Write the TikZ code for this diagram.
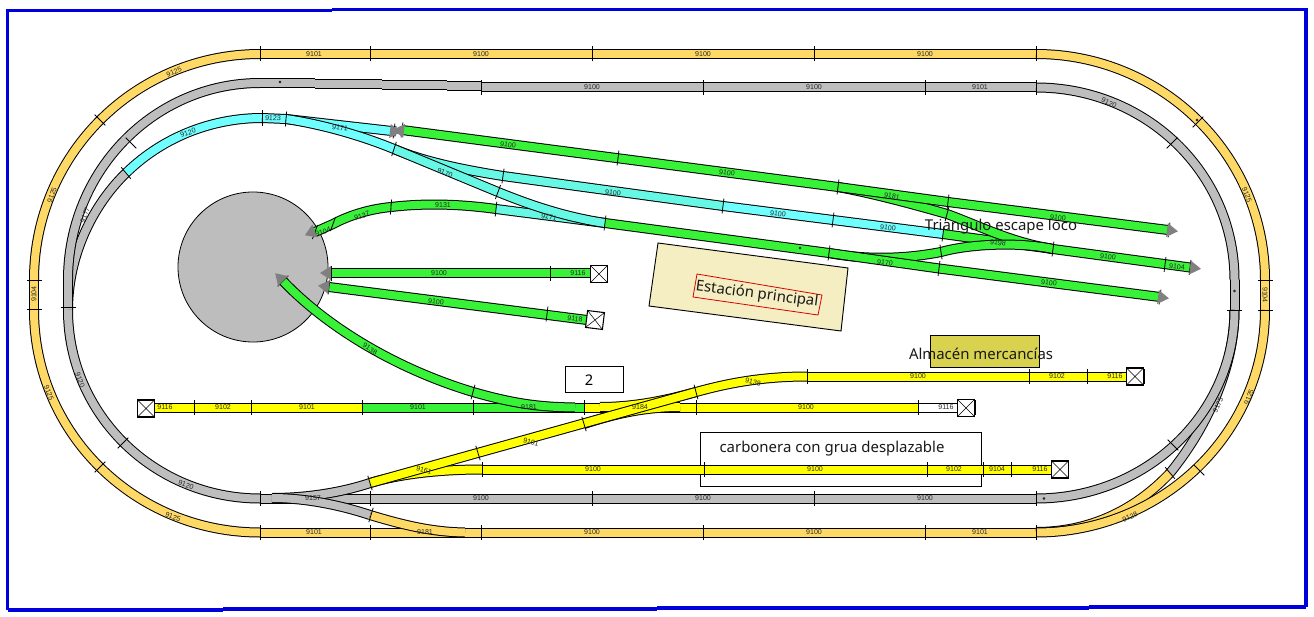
\documentclass[tikz,border=0pt]{standalone}
\usepackage{fontspec}
\setmainfont{Noto Sans}
\newfontfamily\labfont{Liberation Sans}
\definecolor{org}{HTML}{FFD966}
\definecolor{gry}{HTML}{BEBEBE}
\definecolor{yel}{HTML}{FFFF00}
\definecolor{grn}{HTML}{38F238}
\definecolor{cya}{HTML}{70FFFF}
\definecolor{tea}{HTML}{66F8E4}
\definecolor{frame}{HTML}{0000DC}
\definecolor{arrowgray}{HTML}{808080}
\definecolor{tbl}{HTML}{BDBDBD}
\definecolor{station}{HTML}{F5EEC2}
\definecolor{store}{HTML}{D9D24F}
\tikzset{
  trk/.style={line width=.75pt,double=#1,double distance=6pt,line join=round},
  tickln/.style={line width=.6pt,black},
  lab/.style={font=\labfont\fontsize{5.3}{6}\selectfont,text=black!85,inner sep=0pt},
  bigtxt/.style={font=\fontsize{11.2}{13}\selectfont,inner sep=0pt,text=black!90},
  outline/.style={line width=.7pt,draw=black},
  blueline/.style={line width=2.5pt,frame,line cap=square},
  ahead/.style={fill=arrowgray,draw=none}
}
\newcounter{labc}
\newcommand{\trk}[2]{\draw[trk=#1] #2;}
\newcommand{\tk}[3]{\draw[tickln] (#1,#2) +(#3:7.5) -- +(#3:-7.5);}
\newcommand{\ah}[3]{\fill[ahead] (#1,#2) +(#3:11) -- +(#3+90:7) -- +(#3-90:7) -- cycle;}
\newcommand{\lb}[4]{\stepcounter{labc}\node[lab,rotate=#3] (L\arabic{labc}) at (#1,#2) {#4};}
\newcommand{\bx}[3]{\draw[line width=.8pt,fill=white] (#1,#2) +(45+#3:12) -- +(135+#3:12) -- +(225+#3:12) -- +(315+#3:12) -- cycle;
  \draw[line width=.4pt] (#1,#2) +(45+#3:12) -- +(225+#3:12) +(135+#3:12) -- +(315+#3:12);}
\newcommand{\dotm}[2]{\draw[line width=.3pt,fill=white] (#1,#2) circle (1);}
\begin{document}
\begin{tikzpicture}[x=.75pt,y=-.75pt]
\useasboundingbox (0,0) rectangle (1314,617);
\fill[white] (0,0) rectangle (1314,617);
% frame
\draw[blueline] (7.5,610) -- (7.5,10.5) -- (332,10.5);
\draw[blueline] (332,9.5) -- (1306,9.5) -- (1306,607);
\draw[blueline] (7.5,610) -- (223,610);
\draw[blueline] (223,609) -- (657,609);
\draw[blueline] (657,608) -- (1089,608);
\draw[blueline] (1089,607) -- (1306,607);
% buildings
\node[outline,fill=white,minimum width=281*.75pt,minimum height=54*.75pt,inner sep=0pt,anchor=north west] (carbbox) at (700,432) {};
\node[outline,fill=white,minimum width=58*.75pt,minimum height=26*.75pt,inner sep=0pt] (twobox) at (594,379) {};
\node[font=\fontsize{11}{13}\selectfont,inner sep=0pt] (two) at (589,380) {2};
\draw[outline,fill=station] (658,243) -- (848,268) -- (841,331) -- (649,306) -- cycle;
\draw[line width=.6pt,red!85!black] (697,274) -- (822,295) -- (818,315) -- (693,297) -- cycle;
\node[outline,fill=store,minimum width=109*.75pt,minimum height=32*.75pt,inner sep=0pt,anchor=north west] (storebox) at (930,335) {};
\draw[line width=.6pt,fill=tbl] (253,267) circle (75);
% outer oval
\trk{org}{(34,280) .. controls (34,155) and (135,54) .. (260,54)}
\trk{org}{(260,54) -- (1036,54)}
\trk{org}{(1036,54) .. controls (1162,54) and (1265,155) .. (1265,280)}
\trk{org}{(1265,280) -- (1265,310)}
\trk{org}{(34,280) -- (34,310)}
\trk{org}{(34,310) .. controls (34,433) and (135,532.5) .. (260,532.5)}
\trk{org}{(260,532.5) -- (1036,532.5)}
\trk{org}{(1036,532) .. controls (1090,532) and (1135,510) .. (1170,473)}
\trk{org}{(1265,310) .. controls (1265,433) and (1162,532.5) .. (1036,532.5)}
\trk{org}{(370,515) .. controls (400,524) and (430,532) .. (465,532.5)}
% gray oval
\trk{gry}{(68,310) .. controls (68,255) and (93,205) .. (126,173)}
\trk{gry}{(68,280) .. controls (68,171) and (154,83) .. (260,83)}
\trk{gry}{(260,83) -- (315,83)}
\trk{gry}{(315,84) -- (382,84)}
\trk{gry}{(382,85) -- (447,85)}
\trk{gry}{(447,86) -- (481,86)}
\trk{gry}{(481,87.5) -- (1036,87.5)}
\trk{gry}{(1036,87.5) .. controls (1145,87.5) and (1234.5,172) .. (1234.5,280)}
\trk{gry}{(1234.5,280) -- (1234.5,310)}
\trk{gry}{(1234.5,310) .. controls (1234.5,370) and (1205,430) .. (1170,473)}
\trk{gry}{(1234.5,310) .. controls (1234.5,414) and (1146,498.5) .. (1036,498.5)}
\trk{gry}{(68,280) -- (68,310)}
\trk{gry}{(68,310) .. controls (68,414) and (154,498.5) .. (260,498.5)}
\trk{gry}{(260,498.5) -- (1036,498.5)}
\trk{gry}{(272,498) .. controls (305,498) and (340,493) .. (370,483)}
\trk{gry}{(272,498) .. controls (305,498) and (340,505) .. (370,515)}
% cyan
\trk{cya}{(126,173) .. controls (165,135) and (215,118) .. (262,118)}
\trk{cya}{(262,118) -- (286,119)}
\trk{cya}{(286,119) -- (396,131.5)}
\trk{cya}{(286,119) .. controls (320,124) and (360,135) .. (394,149)}
\trk{tea}{(394,149) .. controls (425,162) and (465,170) .. (503,176)}
\trk{tea}{(394,149) -- (498,192)}
\trk{tea}{(503,176) -- (723,206)}
\trk{cya}{(723,206) -- (943,234)}
\trk{tea}{(496,209) -- (605,223)}
\trk{tea}{(498,192) .. controls (530,205) and (565,217) .. (605,223)}
% green
\trk{grn}{(402,130) -- (838,187)}
\trk{grn}{(838,187) .. controls (880,195) and (915,205) .. (947,214)}
\trk{grn}{(838,187) -- (948,202)}
\trk{grn}{(948,202) -- (1168,230)}
\trk{grn}{(943,234) -- (1053,249)}
\trk{grn}{(947,214) .. controls (980,226) and (1010,242) .. (1053,249)}
\trk{grn}{(605,223) -- (829,253)}
\trk{grn}{(829,253) .. controls (860,259) and (900,260) .. (941,252)}
\trk{grn}{(829,253) -- (939,268.5)}
\trk{grn}{(941,252) .. controls (965,245) and (1015,241) .. (1053,249)}
\trk{grn}{(1053,249) -- (1190,267.5)}
\trk{grn}{(939,268.5) -- (1160,297)}
\trk{grn}{(315,232) -- (333,224) .. controls (350,215) and (370,209) .. (391,207)}
\trk{grn}{(391,207) .. controls (425,203) and (460,204) .. (496,209)}
\trk{grn}{(331,273) -- (590,273)}
\trk{grn}{(329,287) -- (587,320)}
\trk{grn}{(283,281) .. controls (330,330) and (400,370) .. (473,392)}
\trk{yel}{(155,407.5) -- (362,407.5)}
\trk{grn}{(362,407.5) -- (584,407.5)}
\trk{grn}{(473,392) .. controls (515,404) and (540,407) .. (575,407.5)}
\trk{white}{(918,407.5) -- (957,407.5)}
\trk{yel}{(584,407.5) -- (918,407.5)}
\trk{yel}{(584,424) .. controls (620,412) and (650,407) .. (680,407)}
\trk{yel}{(600,407) .. controls (630,407) and (660,402) .. (696,392)}
\trk{yel}{(370,483) .. controls (400,474) and (440,469.5) .. (482,469.5)}
\trk{yel}{(482,469.5) -- (1052,469.5)}
\trk{yel}{(370,483) -- (696,392)}
\trk{yel}{(696,392) .. controls (725,384) and (760,376.5) .. (807,376.5)}
\trk{yel}{(807,376.5) -- (1127,376.5)}
% ticks
\foreach \x in {260,370,592,814,1036} {\tk{\x}{54}{90}}
\foreach \x in {260,370,481,703,925,1036} {\tk{\x}{532.5}{90}}
\foreach \x in {481,703,925,1036} {\tk{\x}{87.5}{90}}
\foreach \x in {260,370,592,814,1036} {\tk{\x}{498.5}{90}}
\foreach \x in {194,251,362,473,584,696,918} {\tk{\x}{407.5}{90}}
\foreach \x in {807,1029,1087} {\tk{\x}{376.5}{90}}
\foreach \x in {482,704,927,983,1011} {\tk{\x}{469.5}{90}}
\tk{34}{280}{0} \tk{34}{309}{0} \tk{1265}{280}{0} \tk{1265}{310}{0}
\tk{68}{307}{0} \tk{1234.5}{310}{0}
\tk{100}{120}{45} \tk{1198}{122}{-45} \tk{100}{467}{-45} \tk{1199}{470}{45}
\tk{131}{143}{45} \tk{1172}{143}{-45} \tk{123}{443}{-45} \tk{1173}{445}{45}
\tk{126}{173}{50} \tk{1170}{473}{50}
\tk{262}{118}{90} \tk{286}{119}{95}
\tk{394}{149}{108} \tk{503}{176}{98} \tk{498}{192}{110} \tk{496}{209}{96}
\tk{605}{223}{97} \tk{723}{206}{97} \tk{833}{220}{97} \tk{943}{234}{97}
\tk{618}{158}{97} \tk{838}{187}{97} \tk{948}{202}{97} \tk{947}{214}{105}
\tk{829}{253}{97} \tk{939}{268.5}{97} \tk{941}{252}{82}
\tk{1053}{249}{97} \tk{1165}{264.5}{97} \tk{1190}{267.5}{97}
\tk{1169}{230}{97} \tk{1160}{297}{97}
\tk{333}{224}{110} \tk{391}{207}{95}
\tk{550}{273}{90} \tk{547}{314}{97}
\tk{473}{392}{105}
\tk{370}{483}{73} \tk{478}{453}{73} \tk{584}{424}{73} \tk{696}{392}{75}
\tk{371}{515}{107}
\tk{137}{407.5}{90} \tk{975}{407.5}{90} \tk{1144}{376.5}{90}
\tk{331}{273}{90} \tk{329}{287}{97} \tk{315}{232}{110} \tk{283}{281}{135}
\tk{402}{130}{97} \tk{394}{131}{97}
% small marks
\dotm{280}{82} \dotm{1234.5}{291} \dotm{1044}{498.5} \dotm{1197}{120} \dotm{800}{248}
% buffers
\bx{146}{408.5}{0} \bx{966}{408}{0} \bx{1135}{376.5}{0} \bx{1060}{469.5}{0} \bx{599}{274}{0} \bx{595}{320}{7}
% arrowheads
\ah{1167}{230}{7} \ah{1190}{267.5}{7} \ah{1158}{297}{7}
\ah{331}{273}{180} \ah{329}{287}{187} \ah{315}{231}{157} \ah{283}{281}{225}
\ah{390}{131}{7} \ah{404}{131}{187}
% labels: outer
\lb{314}{54}{0}{9101}\lb{481}{54}{0}{9100}\lb{703}{54}{0}{9100}\lb{925}{54}{0}{9100}
\lb{174}{72}{22}{9125}\lb{52}{195}{70}{9125}\lb{34}{294}{90}{9104}\lb{49}{393}{-68}{9125}
\lb{173}{517}{-20}{9125}\lb{314}{532.5}{0}{9101}\lb{425}{532.5}{0}{9181}\lb{592}{532.5}{0}{9100}
\lb{814}{532.5}{0}{9100}\lb{980}{532.5}{0}{9101}\lb{1130}{517}{25}{9128}\lb{1249}{397}{68}{9125}
\lb{1265}{295}{-90}{9104}\lb{1247}{195}{-68}{9125}
% labels: gray
\lb{592}{87}{0}{9100}\lb{814}{87.5}{0}{9100}\lb{980}{87.5}{0}{9101}\lb{1109}{103}{-25}{9120}
\lb{85}{215}{70}{9177}\lb{80}{380}{-70}{9120}\lb{186}{485}{-20}{9120}\lb{313}{498.5}{0}{9157}
\lb{481}{498.5}{0}{9100}\lb{703}{498.5}{0}{9100}\lb{925}{498.5}{0}{9100}\lb{1218}{405}{65}{9175}
% labels: cyan and green
\lb{188}{133}{20}{9120}\lb{273}{118}{-3}{9123}\lb{340}{128}{-8}{9171}\lb{445}{173}{-20}{9170}
\lb{549}{217}{-10}{9171}\lb{443}{205}{0}{9131}\lb{362}{216}{20}{9137}\lb{323}{232}{20}{9104}
\lb{508}{145}{-8}{9100}\lb{727}{173}{-7}{9100}\lb{613}{193}{-7}{9100}\lb{778}{214}{-7}{9100}
\lb{888}{228}{-7}{9100}\lb{892}{196}{-10}{9181}\lb{1058}{218}{-7}{9100}\lb{998}{243}{-8}{9198}
\lb{885}{263}{-7}{9170}\lb{1108}{257}{-7}{9100}\lb{1177}{267}{-7}{9104}\lb{1049}{283}{-7}{9100}
\lb{439}{273}{0}{9100}\lb{578}{273}{0}{9116}\lb{436}{302}{-7}{9100}\lb{575}{319}{-7}{9118}
\lb{370}{349}{-32}{9138}
% labels: yellow
\lb{165}{407.5}{0}{9116}\lb{223}{407.5}{0}{9102}\lb{307}{407.5}{0}{9101}\lb{418}{407.5}{0}{9101}
\lb{529}{407.5}{0}{9181}\lb{640}{407.5}{0}{9184}\lb{806}{407.5}{0}{9100}\lb{946}{407.5}{0}{9116}
\lb{424}{470}{-15}{9161}\lb{531}{442}{-15}{9101}\lb{753}{382}{-12}{9138}
\lb{918}{376.5}{0}{9100}\lb{1057}{376.5}{0}{9102}\lb{1115}{376.5}{0}{9116}
\lb{593}{469.5}{0}{9100}\lb{815}{469.5}{0}{9100}\lb{954}{469.5}{0}{9102}\lb{997}{469.5}{0}{9104}\lb{1040}{469.5}{0}{9116}
% big text
\node[bigtxt] (tri) at (1001,227) {Triangulo escape loco};
\node[bigtxt,rotate=-7.5] (est) at (757,294.5) {Estación principal};
\node[bigtxt] (alm) at (981,353.5) {Almacén mercancías};
\node[bigtxt] (carb) at (832,449) {carbonera con grua desplazable};
\end{tikzpicture}
\end{document}
